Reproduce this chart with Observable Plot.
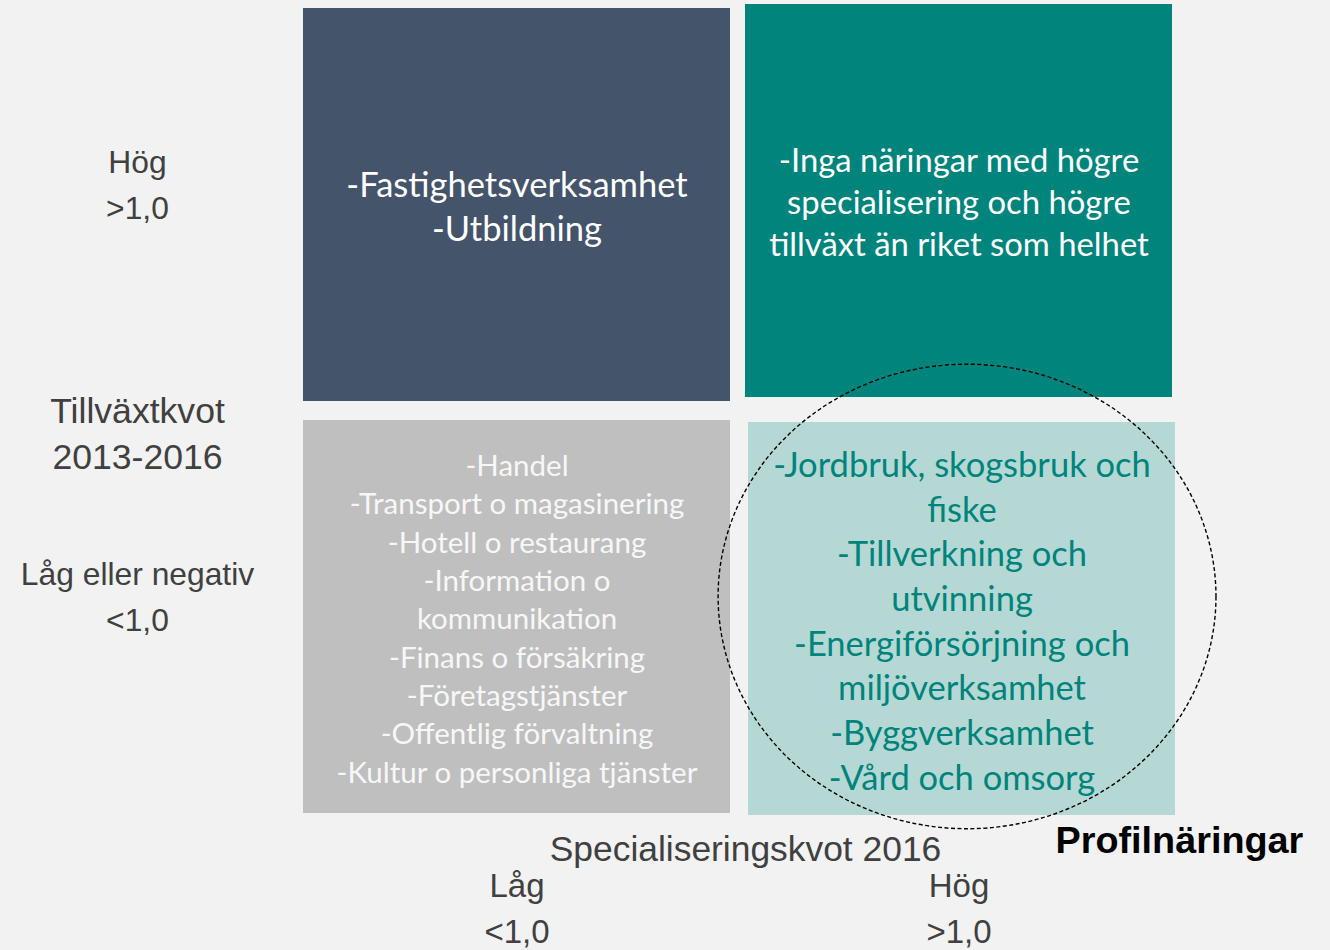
<!DOCTYPE html>
<html><head><meta charset="utf-8">
<script src="https://cdn.jsdelivr.net/npm/d3@7"></script>
<script src="https://cdn.jsdelivr.net/npm/@observablehq/plot@0.6"></script>
<style>
html,body{margin:0;padding:0;background:#f2f2f2;}
#chart svg{display:block;}
</style></head><body><div id="chart"></div>
<script>
// ---- data ----
const specLevels = ["Låg", "Hög"];
const specThresholds = ["<1,0", ">1,0"];
const growthLevels = ["Hög", "Låg eller negativ"];
const growthThresholds = [">1,0", "<1,0"];
const quadrantSpec = ["Låg", "Hög", "Låg", "Hög"];
const quadrantGrowth = ["Hög", "Hög", "Låg eller negativ", "Låg eller negativ"];
const quadrantText = [
  "-Fastighetsverksamhet\n-Utbildning",
  "-Inga näringar med högre\nspecialisering och högre\ntillväxt än riket som helhet",
  "-Handel\n-Transport o magasinering\n-Hotell o restaurang\n-Information o\nkommunikation\n-Finans o försäkring\n-Företagstjänster\n-Offentlig förvaltning\n-Kultur o personliga tjänster",
  "-Jordbruk, skogsbruk och\nfiske\n-Tillverkning och\nutvinning\n-Energiförsörjning och\nmiljöverksamhet\n-Byggverksamhet\n-Vård och omsorg"
];
const xTitle = "Specialiseringskvot 2016";
const yTitle = "Tillväxtkvot\n2013-2016";
const highlightLabel = "Profilnäringar";
const highlightQuadrant = 3;

// ---- styles ----
const qStyle = [
  {fill: "#44546a", color: "#ffffff", size: 34.5, lh: 44, dx: 0, dy: 0},
  {fill: "#00847c", color: "#ffffff", size: 32.8, lh: 42, dx: 0, dy: -4},
  {fill: "#bfbfbf", color: "#f7f7f7", size: 29.5, lh: 38.4, dx: 0, dy: 0},
  {fill: "#b5d8d5", color: "#00847c", size: 34.5, lh: 44.7, dx: 3, dy: 2}
];
const qFont = "Lato, 'Open Sans', sans-serif";
const aFont = "'Liberation Sans', Arial, sans-serif";

const marks = [];
quadrantText.forEach((t, i) => {
  const s = qStyle[i];
  marks.push(Plot.cell([i], {x: d => quadrantSpec[d], y: d => quadrantGrowth[d], fill: s.fill, inset: 0, dx: s.dx, dy: s.dy}));
  marks.push(Plot.text([i], {x: d => quadrantSpec[d], y: d => quadrantGrowth[d], text: d => quadrantText[d],
    fill: s.color, fontSize: s.size, lineHeight: s.lh / s.size, fontFamily: qFont, dx: s.dx, dy: s.dy}));
});

marks.push(Plot.axisX({anchor: "bottom", tickSize: 0, tickPadding: 50, label: null, fontSize: 33,
  lineHeight: 46 / 33, fill: "#404040", fontFamily: aFont, lineAnchor: "top",
  tickFormat: d => d + "\n" + specThresholds[specLevels.indexOf(d)]}));
marks.push(Plot.axisY({anchor: "left", tickSize: 0, tickPadding: 166, label: null, fontSize: 31.8,
  lineHeight: 46 / 31.8, fill: "#404040", fontFamily: aFont, textAnchor: "middle", dy: -23.5,
  tickFormat: d => d + "\n" + growthThresholds[growthLevels.indexOf(d)]}));
marks.push(Plot.text([yTitle], {text: d => d, frameAnchor: "left", dx: -166, dy: 20.5, textAnchor: "middle",
  lineAnchor: "middle", fontSize: 35.6, lineHeight: 46 / 35.6, fill: "#404040", fontFamily: aFont}));
marks.push(Plot.text([xTitle], {text: d => d, frameAnchor: "bottom", dx: 7.5, dy: 35.6, lineAnchor: "middle",
  fontSize: 35.4, fill: "#404040", fontFamily: aFont}));
marks.push(Plot.text([highlightLabel], {text: d => d, frameAnchor: "bottom-right", dx: -117, dy: 26,
  textAnchor: "start", lineAnchor: "middle", fontSize: 37.8, fontWeight: "bold", fill: "#000000", fontFamily: aFont}));

const chart = Plot.plot({
  width: 1330, height: 950,
  marginLeft: 303, marginRight: 158, marginTop: 7, marginBottom: 136,
  style: {background: "#f2f2f2", overflow: "visible"},
  x: {type: "band", domain: specLevels, paddingInner: 0.034, paddingOuter: 0},
  y: {type: "band", domain: growthLevels, paddingInner: 0.046, paddingOuter: 0},
  marks
});
document.getElementById("chart").appendChild(chart);

// dashed highlight ellipse around the profile quadrant, positioned via the plot's scales
const sx = chart.scale("x"), sy = chart.scale("y");
const bw = sx.bandwidth ?? 427, bh = sy.bandwidth ?? 394;
const x0 = sx.apply(quadrantSpec[highlightQuadrant]);
const y0 = sy.apply(quadrantGrowth[highlightQuadrant]);
d3.select(chart).append("ellipse")
  .attr("cx", x0 + 0.52 * bw).attr("cy", y0 + 0.449 * bh)
  .attr("rx", 0.583 * bw).attr("ry", 0.591 * bh)
  .attr("fill", "none").attr("stroke", "#000").attr("stroke-width", 1.4)
  .attr("stroke-dasharray", "4,2.5");
</script></body></html>
